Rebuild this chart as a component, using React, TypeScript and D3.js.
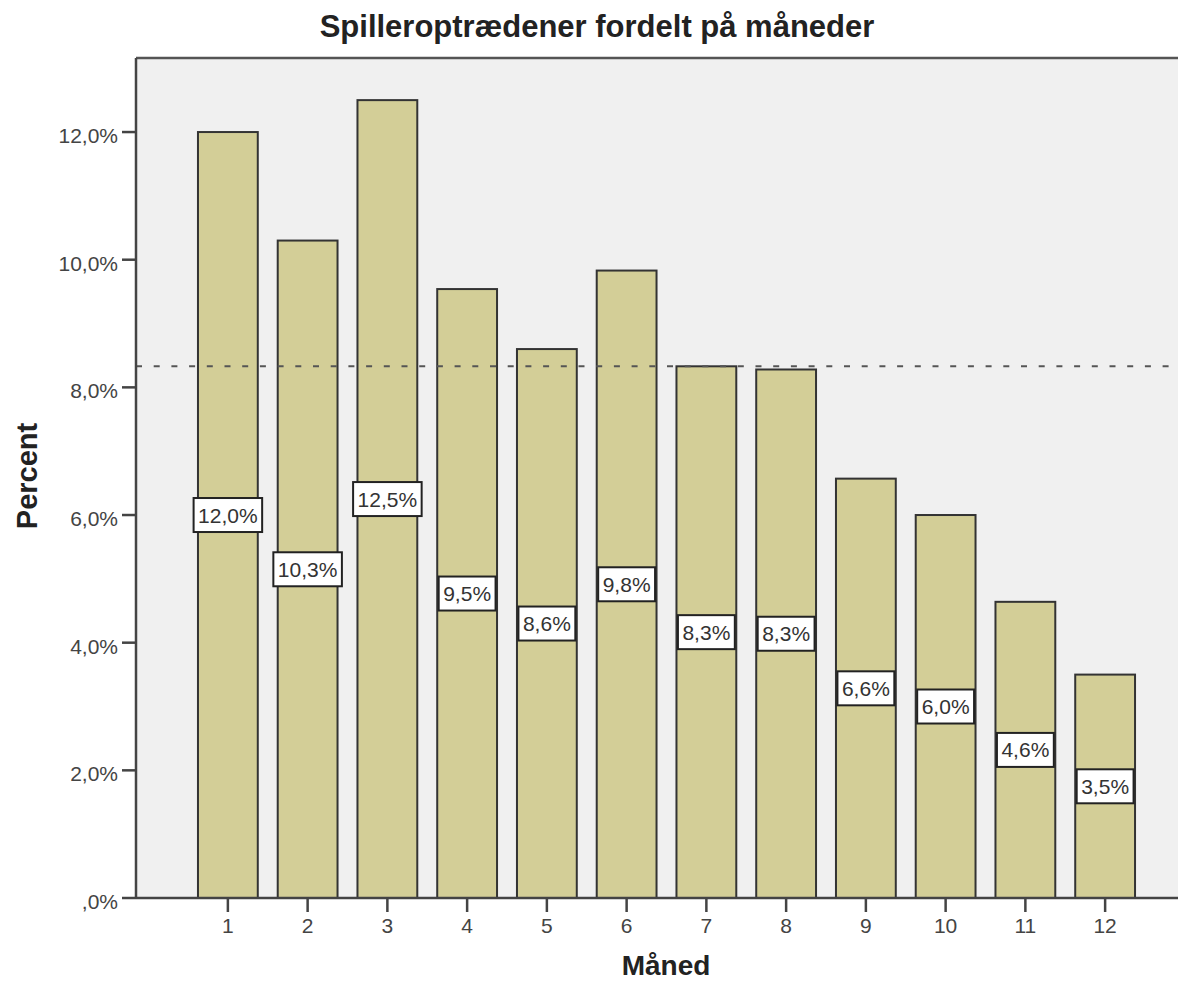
import React, { useEffect, useRef } from "react";
import * as d3 from "d3";

const months = ["1", "2", "3", "4", "5", "6", "7", "8", "9", "10", "11", "12"];
const percents = [12.0, 10.3, 12.5, 9.54, 8.6, 9.83, 8.33, 8.28, 6.57, 6.0, 4.64, 3.5];
const yTicks = [0, 2, 4, 6, 8, 10, 12];
const referenceLine = 8.33;
const titleText = "Spilleroptrædener fordelt på måneder";
const xTitle = "Måned";
const yTitle = "Percent";

const W = 1178;
const H = 983;
const FONT = "Arial, 'Liberation Sans', Helvetica, sans-serif";

function fmt(v: number): string {
  const s = v.toFixed(1).replace(".", ",");
  return (s.startsWith("0,") ? s.slice(1) : s) + "%";
}

export default function App() {
  const ref = useRef<SVGSVGElement | null>(null);

  useEffect(() => {
    const svg = d3.select(ref.current);
    svg.selectAll("*").remove();

    const plotLeft = 136, plotTop = 58, plotRight = 1178, plotBottom = 898;

    const x = d3.scaleBand<string>().domain(months).range([188, 1145]).paddingInner(0.25).paddingOuter(0.125);
    const y = d3.scaleLinear().domain([0, 13.16]).range([plotBottom, plotTop]);

    svg.append("rect").attr("x", 0).attr("y", 0).attr("width", W).attr("height", H).attr("fill", "#ffffff");
    svg.append("rect").attr("x", plotLeft).attr("y", plotTop).attr("width", plotRight - plotLeft).attr("height", plotBottom - plotTop).attr("fill", "#f0f0f0");

    // top border
    svg.append("line").attr("x1", plotLeft).attr("x2", plotRight).attr("y1", plotTop).attr("y2", plotTop)
      .attr("stroke", "#555").attr("stroke-width", 2.5);

    // bars
    svg.append("g").selectAll("rect").data(percents).join("rect")
      .attr("x", (_, i) => x(months[i])!)
      .attr("y", d => y(d))
      .attr("width", x.bandwidth())
      .attr("height", d => y(0) - y(d))
      .attr("fill", "#d3ce97")
      .attr("stroke", "#333")
      .attr("stroke-width", 2);

    // reference line
    svg.append("line").attr("x1", plotLeft).attr("x2", plotRight).attr("y1", y(referenceLine)).attr("y2", y(referenceLine))
      .attr("stroke", "#555").attr("stroke-width", 2).attr("stroke-dasharray", "6,11.7");

    // value labels
    const lg = svg.append("g");
    percents.forEach((v, i) => {
      const cx = x(months[i])! + x.bandwidth() / 2;
      const cy = (y(v) + y(0)) / 2;
      const g = lg.append("g");
      const rect = g.append("rect");
      const t = g.append("text").attr("x", cx).attr("y", cy + 7.5).attr("text-anchor", "middle")
        .attr("font-family", FONT).attr("font-size", 21).attr("fill", "#333").text(fmt(v));
      const bb = (t.node() as SVGTextElement).getBBox();
      const bw = bb.width + 9;
      const bh = 34;
      rect.attr("x", cx - bw / 2).attr("y", cy - bh / 2).attr("width", bw).attr("height", bh)
        .attr("fill", "#fff").attr("stroke", "#222").attr("stroke-width", 2);
    });

    // y axis
    svg.append("line").attr("x1", plotLeft).attr("x2", plotLeft).attr("y1", plotTop).attr("y2", plotBottom)
      .attr("stroke", "#444").attr("stroke-width", 2.5);
    const yg = svg.append("g");
    yTicks.forEach(t => {
      yg.append("line").attr("x1", 122).attr("x2", plotLeft).attr("y1", y(t)).attr("y2", y(t))
        .attr("stroke", "#444").attr("stroke-width", 2.5);
      yg.append("text").attr("x", 118).attr("y", y(t) + 11).attr("text-anchor", "end")
        .attr("font-family", FONT).attr("font-size", 21).attr("fill", "#444").text(fmt(t));
    });

    // x axis
    svg.append("line").attr("x1", plotLeft).attr("x2", plotRight).attr("y1", plotBottom).attr("y2", plotBottom)
      .attr("stroke", "#444").attr("stroke-width", 2.5);
    const xg = svg.append("g");
    months.forEach(m => {
      const cx = x(m)! + x.bandwidth() / 2;
      xg.append("line").attr("x1", cx).attr("x2", cx).attr("y1", plotBottom).attr("y2", 912)
        .attr("stroke", "#444").attr("stroke-width", 2.5);
      xg.append("text").attr("x", cx).attr("y", 933).attr("text-anchor", "middle")
        .attr("font-family", FONT).attr("font-size", 21).attr("fill", "#444").text(m);
    });

    // titles
    svg.append("text").attr("x", 597).attr("y", 37).attr("text-anchor", "middle")
      .attr("font-family", FONT).attr("font-size", 31).attr("font-weight", "bold").attr("fill", "#222").text(titleText);
    svg.append("text").attr("x", 666).attr("y", 975).attr("text-anchor", "middle")
      .attr("font-family", FONT).attr("font-size", 28).attr("font-weight", "bold").attr("fill", "#222").text(xTitle);
    svg.append("text").attr("transform", `translate(37,476) rotate(-90)`).attr("text-anchor", "middle")
      .attr("font-family", FONT).attr("font-size", 29).attr("font-weight", "bold").attr("fill", "#222").text(yTitle);
  }, []);

  return (
    <div style={{ position: "absolute", left: 0, top: 0 }}>
      <svg ref={ref} width={W} height={H} style={{ display: "block" }} />
    </div>
  );
}
